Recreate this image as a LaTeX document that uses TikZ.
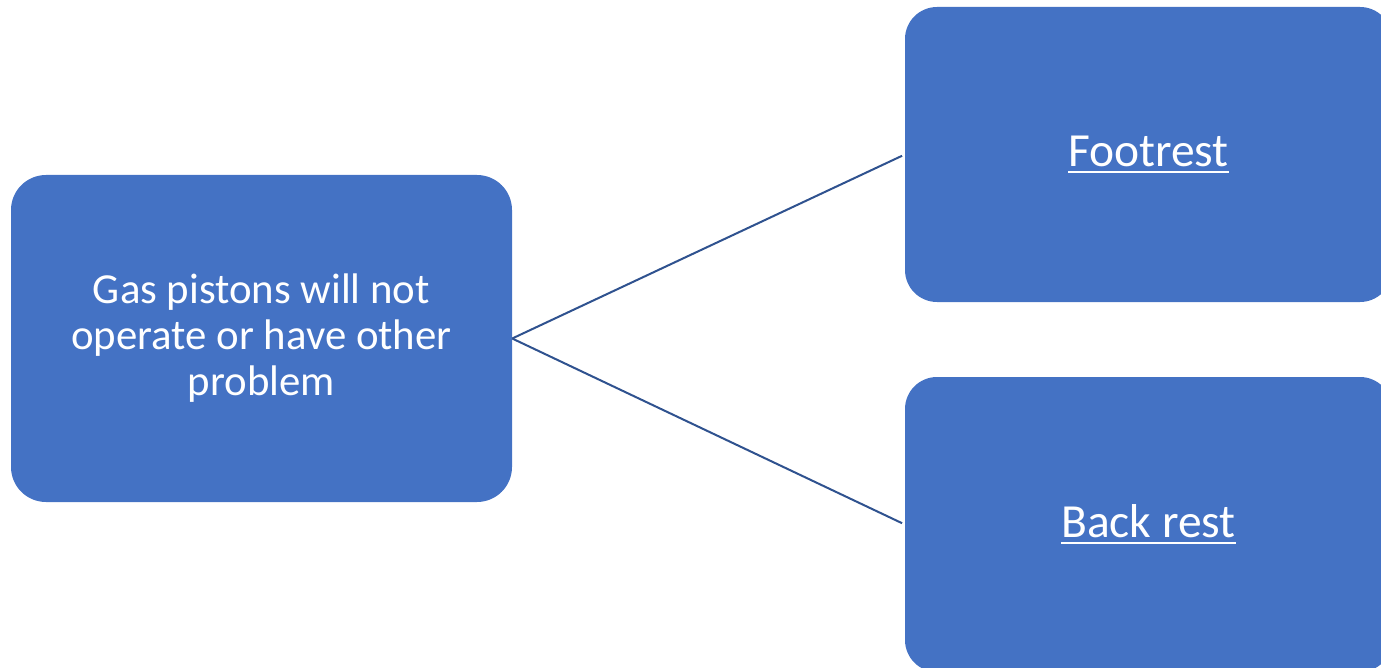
\documentclass[tikz,border=0pt]{standalone}
\usepackage{fontspec}
\setmainfont{Carlito}
\definecolor{boxblue}{HTML}{4472C4}
\definecolor{lineblue}{HTML}{2F528F}
\newcommand\myul[1]{\setbox0\hbox{#1}\rlap{\rule[-6.5pt]{\wd0}{2.4pt}}\box0}
\begin{document}
\begin{tikzpicture}[x=1pt,y=-1pt,
  blk/.style={rectangle,fill=boxblue,draw=none,text=white,align=center,inner sep=0pt},
  conn/.style={draw=lineblue,line width=2pt}]
\useasboundingbox (0,0) rectangle (1381,668);
\clip (0,0) rectangle (1381,668);
\node[blk,rounded corners=35pt,minimum width=501pt,minimum height=327pt,
  font=\fontsize{42.8}{46}\selectfont] (left) at (261.5,338.5)
  {Gas pistons will not\\operate or have other\\problem};
\node[blk,rounded corners=32pt,minimum width=487pt,minimum height=295pt,
  font=\fontsize{47.5}{52}\selectfont] (foot) at (1148.5,154.5) {\myul{Footrest}};
\node[blk,rounded corners=32pt,minimum width=487pt,minimum height=295pt,
  font=\fontsize{47.5}{52}\selectfont] (back) at (1148.5,524.5) {\myul{Back rest}};
\draw[conn,shorten >=3pt] (left.east) -- (foot.west);
\draw[conn,shorten >=3pt] (left.east) -- (back.west);
\end{tikzpicture}
\end{document}
